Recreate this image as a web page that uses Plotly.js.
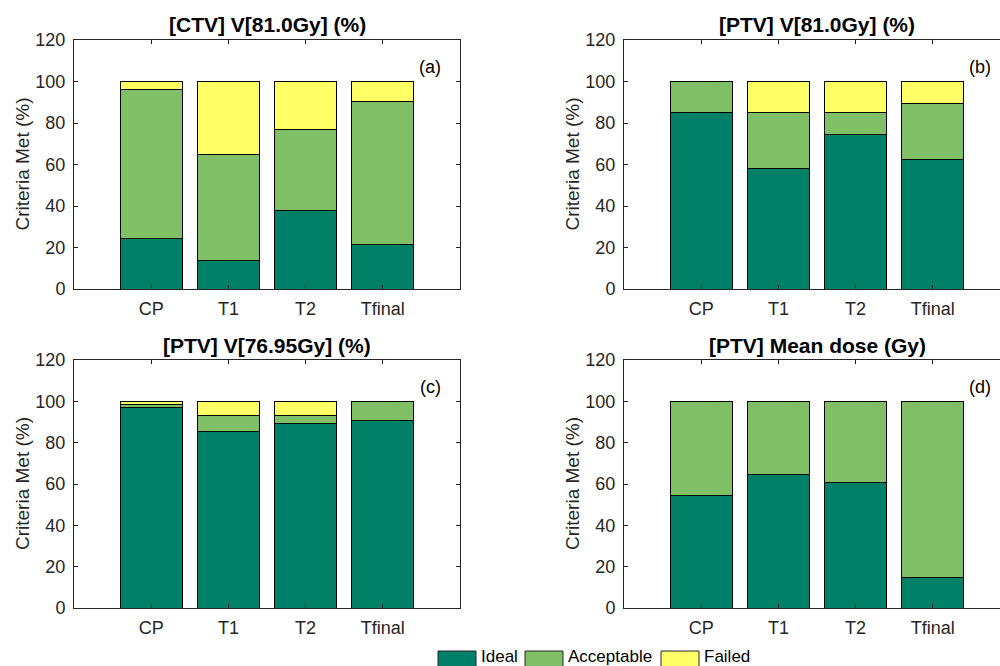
<!DOCTYPE html>
<html><head><meta charset="utf-8">
<script src="https://cdn.plot.ly/plotly-3.0.1.min.js"></script>
<style>html,body{margin:0;padding:0;background:#fff}#chart{width:1000px;height:666px}</style>
</head><body><div id="chart"></div>
<script>
// ---- data ----
const categories = ['CP', 'T1', 'T2', 'Tfinal'];
const seriesNames = ['Ideal', 'Acceptable', 'Failed'];
const panelTitles = ['[CTV] V[81.0Gy] (%)', '[PTV] V[81.0Gy] (%)', '[PTV] V[76.95Gy] (%)', '[PTV] Mean dose (Gy)'];
const panelLabels = ['(a)', '(b)', '(c)', '(d)'];
const yTickVals = [0, 20, 40, 60, 80, 100, 120];
const yAxisTitle = 'Criteria Met (%)';

const ctv81Ideal      = [24.4, 13.6, 37.8, 21.5];
const ctv81Acceptable = [71.6, 51.1, 39.3, 69.0];
const ctv81Failed     = [4.0, 35.3, 22.9, 9.5];

const ptv81Ideal      = [85.1, 58.2, 74.4, 62.2];
const ptv81Acceptable = [14.9, 26.9, 10.7, 27.2];
const ptv81Failed     = [0.0, 14.9, 14.9, 10.6];

const ptv7695Ideal      = [97.1, 85.2, 89.4, 90.6];
const ptv7695Acceptable = [1.4, 8.0, 3.8, 9.4];
const ptv7695Failed     = [1.5, 6.8, 6.8, 0.0];

const ptvMeanIdeal      = [54.2, 64.7, 60.8, 14.7];
const ptvMeanAcceptable = [45.8, 35.3, 39.2, 85.3];
const ptvMeanFailed     = [0.0, 0.0, 0.0, 0.0];

const panels = [
  [ctv81Ideal, ctv81Acceptable, ctv81Failed],
  [ptv81Ideal, ptv81Acceptable, ptv81Failed],
  [ptv7695Ideal, ptv7695Acceptable, ptv7695Failed],
  [ptvMeanIdeal, ptvMeanAcceptable, ptvMeanFailed]
];

// ---- style ----
const colors = ['rgb(0,128,102)', 'rgb(128,191,102)', 'rgb(255,255,102)'];
const ink = '#262626';
const FONT = 'Liberation Sans, Arial, Helvetica, sans-serif';
const W = 1000, H = 666;

// pixel geometry of panels
const colLeft = [74, 624];
const plotW = 386;
const rowTop = [40, 360];
const rowBot = [289, 608];

const traces = [];
const layout = {
  width: W, height: H,
  margin: {l: 0, r: 0, t: 0, b: 0},
  paper_bgcolor: '#fff', plot_bgcolor: '#fff',
  barmode: 'stack',
  showlegend: false,
  font: {family: FONT, color: ink, size: 18},
  annotations: [],
  shapes: []
};

panels.forEach((series, p) => {
  const col = p % 2, row = Math.floor(p / 2);
  const ax = p === 0 ? '' : String(p + 1);
  const x0 = colLeft[col];
  const x1 = Math.min(x0 + plotW, W);
  const visibleFrac = (x1 - x0) / plotW;
  series.forEach((vals, s) => {
    traces.push({
      type: 'bar',
      name: seriesNames[s],
      x: categories,
      y: vals,
      width: 0.8,
      xaxis: 'x' + ax,
      yaxis: 'y' + ax,
      marker: {color: colors[s], line: {color: '#000', width: 1}},
      hoverinfo: 'x+y+name'
    });
  });
  layout['xaxis' + ax] = {
    domain: [x0 / W, x1 / W],
    anchor: 'y' + ax,
    type: 'category',
    categoryarray: categories,
    range: [-1, -1 + 5 * visibleFrac],
    showline: true, linecolor: ink, linewidth: 1,
    mirror: 'ticks',
    ticks: 'inside', ticklen: 4, tickcolor: ink, tickwidth: 1,
    tickfont: {family: FONT, size: 18, color: ink},
    ticklabelstandoff: 3,
    showgrid: false, zeroline: false, fixedrange: true
  };
  layout['yaxis' + ax] = {
    domain: [1 - rowBot[row] / H, 1 - rowTop[row] / H],
    anchor: 'x' + ax,
    range: [0, 120],
    tickvals: yTickVals,
    showline: true, linecolor: ink, linewidth: 1,
    mirror: col === 0 ? 'ticks' : false,
    ticks: 'inside', ticklen: 4, tickcolor: ink, tickwidth: 1,
    tickfont: {family: FONT, size: 18, color: ink},
    ticklabelstandoff: 4,
    showgrid: false, zeroline: false, fixedrange: true
  };
  // panel title
  layout.annotations.push({
    text: '<b>' + panelTitles[p] + '</b>',
    xref: 'paper', yref: 'paper',
    x: (x0 + plotW / 2) / W, y: 1 - (rowTop[row] - 15) / H,
    xanchor: 'center', yanchor: 'middle', showarrow: false,
    font: {family: FONT, size: 21, color: '#000'}
  });
  // y axis title
  layout.annotations.push({
    text: yAxisTitle,
    xref: 'paper', yref: 'paper',
    x: (x0 - 52) / W, y: 1 - ((rowTop[row] + rowBot[row]) / 2) / H,
    xanchor: 'center', yanchor: 'middle', showarrow: false, textangle: -90,
    font: {family: FONT, size: 19, color: ink}
  });
  // panel label
  layout.annotations.push({
    text: panelLabels[p],
    xref: 'paper', yref: 'paper',
    x: (x0 + plotW - 17) / W, y: 1 - (rowTop[row] + 27) / H,
    xanchor: 'right', yanchor: 'middle', showarrow: false,
    font: {family: FONT, size: 18, color: '#000'}
  });
});

// custom legend at bottom
const legBoxX = [438, 525, 661];
const legBoxW = 38;
seriesNames.forEach((name, s) => {
  layout.shapes.push({
    type: 'rect', xref: 'paper', yref: 'paper',
    x0: legBoxX[s] / W, x1: (legBoxX[s] + legBoxW) / W,
    y0: -0.02, y1: 1 - 651 / H,
    fillcolor: colors[s], line: {color: ink, width: 1}
  });
  layout.annotations.push({
    text: name, xref: 'paper', yref: 'paper',
    x: (legBoxX[s] + legBoxW + 3) / W, y: 1 - 656 / H,
    xanchor: 'left', yanchor: 'middle', showarrow: false,
    font: {family: FONT, size: 17, color: '#000'}
  });
});

Plotly.newPlot('chart', traces, layout, {displayModeBar: false, staticPlot: true});
</script>
</body></html>
